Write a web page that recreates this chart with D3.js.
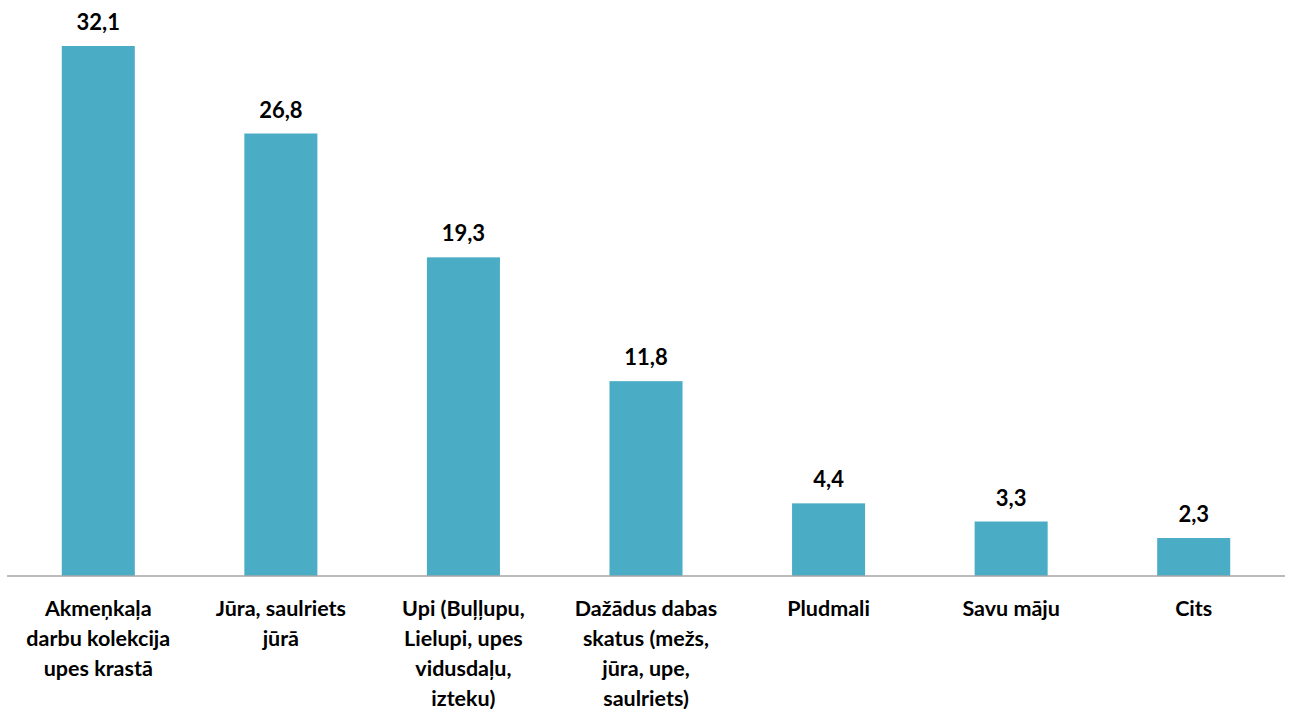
<!DOCTYPE html>
<html>
<head>
<meta charset="utf-8">
<script src="https://cdn.jsdelivr.net/npm/d3@7"></script>
<style>
  body { margin: 0; background: #fff; }
  svg text { font-family: Lato, "Open Sans", sans-serif; font-weight: bold; fill: #000; }
</style>
</head>
<body>
<svg id="chart" width="1290" height="712"></svg>
<script>
  var categories = [
    ['Akmeņkaļa', 'darbu kolekcija', 'upes krastā'],
    ['Jūra, saulriets', 'jūrā'],
    ['Upi (Buļļupu,', 'Lielupi, upes', 'vidusdaļu,', 'izteku)'],
    ['Dažādus dabas', 'skatus (mežs,', 'jūra, upe,', 'saulriets)'],
    ['Pludmali'],
    ['Savu māju'],
    ['Cits']
  ];
  var values = [32.1, 26.8, 19.3, 11.8, 4.4, 3.3, 2.3];
  var valueLabels = ['32,1', '26,8', '19,3', '11,8', '4,4', '3,3', '2,3'];

  var BASE_Y = 576,
      TOP_Y = 46,
      BAR_COLOR = '#4bacc6';

  var svg = d3.select('#chart');

  var x = d3.scaleBand()
      .domain(d3.range(values.length))
      .range([7, 1285])
      .paddingInner(0.6)
      .paddingOuter(0.3);

  var y = d3.scaleLinear()
      .domain([0, values[0]])
      .range([BASE_Y, TOP_Y]);

  svg.selectAll('rect.bar')
    .data(values)
    .enter()
    .append('rect')
    .attr('class', 'bar')
    .attr('x', function (d, i) { return x(i); })
    .attr('y', function (d) { return y(d); })
    .attr('width', x.bandwidth())
    .attr('height', function (d) { return BASE_Y - y(d); })
    .attr('fill', BAR_COLOR);

  svg.selectAll('text.val')
    .data(values)
    .enter()
    .append('text')
    .attr('class', 'val')
    .attr('x', function (d, i) { return x(i) + x.bandwidth() / 2; })
    .attr('y', function (d) { return y(d) - 16; })
    .attr('text-anchor', 'middle')
    .style('font-size', '22px')
    .text(function (d, i) { return valueLabels[i]; });

  // baseline
  svg.append('line')
    .attr('x1', 7)
    .attr('x2', 1285)
    .attr('y1', BASE_Y)
    .attr('y2', BASE_Y)
    .attr('stroke', '#a6a6a6')
    .attr('stroke-width', 1.5);

  var labels = svg.selectAll('text.cat')
    .data(categories)
    .enter()
    .append('text')
    .attr('class', 'cat')
    .attr('text-anchor', 'middle')
    .style('font-size', '21.5px');

  labels.selectAll('tspan')
    .data(function (d, i) { return d.map(function (t) { return { t: t, i: i }; }); })
    .enter()
    .append('tspan')
    .attr('x', function (d) { return x(d.i) + x.bandwidth() / 2; })
    .attr('y', function (d, j) { return 616 + j * 30; })
    .text(function (d) { return d.t; });
</script>
</body>
</html>
